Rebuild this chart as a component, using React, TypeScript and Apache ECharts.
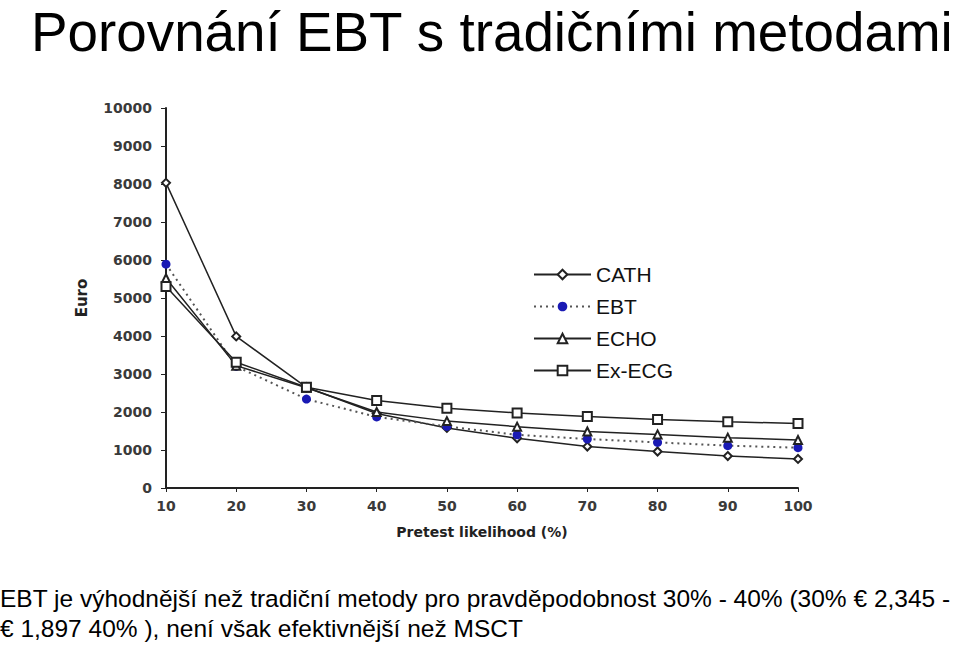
import React, { useEffect, useRef } from "react";
import * as echarts from "echarts";

const categories = ["10", "20", "30", "40", "50", "60", "70", "80", "90", "100"];
const cath = [8030, 3990, 2650, 1960, 1580, 1310, 1090, 960, 840, 765];
const ebt = [5890, 3200, 2340, 1870, 1620, 1400, 1290, 1200, 1115, 1060];
const echo = [5520, 3220, 2640, 2000, 1760, 1614, 1485, 1410, 1325, 1265];
const exEcg = [5300, 3310, 2650, 2300, 2100, 1975, 1880, 1805, 1745, 1695];
const yTicks = [0, 10000, 1000];

const titleText = "Porovnání EBT s tradičními metodami";
const noteLine1 = "EBT je výhodnější než tradiční metody pro pravděpodobnost 30% - 40% (30% € 2,345 -";
const noteLine2 = "€ 1,897 40% ), není však efektivnější než MSCT";

const axisFont = "'DejaVu Sans', Arial, sans-serif";

export default function App() {
  const ref = useRef<HTMLDivElement>(null);
  useEffect(() => {
    if (!ref.current) return;
    const chart = echarts.init(ref.current, null, { renderer: "svg" });
    const lineBase = { type: "line", symbolKeepAspect: true };
    chart.setOption({
      animation: false,
      backgroundColor: "#ffffff",
      graphic: [
        {
          type: "text",
          left: 31,
          top: 4,
          style: {
            text: titleText,
            font: "54.8px 'Liberation Sans', Arial, sans-serif",
            fill: "#000",
          },
        },
        {
          type: "text",
          left: 0,
          top: 586,
          style: {
            text: noteLine1,
            font: "24.5px 'Liberation Sans', Arial, sans-serif",
            fill: "#000",
          },
        },
        {
          type: "text",
          left: 0,
          top: 616,
          style: {
            text: noteLine2,
            font: "24.5px 'Liberation Sans', Arial, sans-serif",
            fill: "#000",
          },
        },
      ],
      legend: {
        orient: "vertical",
        left: 528,
        top: 259,
        itemWidth: 57,
        itemHeight: 12,
        itemGap: 11,
        textStyle: {
          fontSize: 21,
          color: "#111",
          fontFamily: "'Liberation Sans', Arial, sans-serif",
          lineHeight: 19,
        },
        data: ["CATH", "EBT", "ECHO", "Ex-ECG"],
      },
      grid: { left: 166, right: 162, top: 108, bottom: 158, containLabel: false },
      xAxis: {
        type: "category",
        data: categories,
        boundaryGap: false,
        name: "Pretest likelihood (%)",
        nameLocation: "middle",
        nameGap: 37,
        nameTextStyle: {
          fontSize: 14,
          fontWeight: "bold",
          color: "#222",
          fontFamily: axisFont,
        },
        axisLine: { lineStyle: { color: "#222", width: 2 } },
        axisTick: { alignWithLabel: true, length: 4, lineStyle: { color: "#222" } },
        axisLabel: {
          fontSize: 14,
          fontWeight: "bold",
          color: "#3a3a3a",
          margin: 11,
          fontFamily: axisFont,
        },
        splitLine: { show: false },
      },
      yAxis: {
        type: "value",
        min: yTicks[0],
        max: yTicks[1],
        interval: yTicks[2],
        name: "Euro",
        nameLocation: "middle",
        nameRotate: 90,
        nameGap: 77,
        nameTextStyle: {
          fontSize: 15,
          fontWeight: "bold",
          color: "#222",
          fontFamily: axisFont,
        },
        axisLine: { show: true, lineStyle: { color: "#222", width: 2 } },
        axisTick: { show: true, length: 5, lineStyle: { color: "#222" } },
        axisLabel: {
          fontSize: 14,
          fontWeight: "bold",
          color: "#3a3a3a",
          margin: 14,
          fontFamily: axisFont,
          formatter: (v: number) => String(v),
        },
        splitLine: { show: false },
      },
      series: [
        {
          ...lineBase,
          name: "CATH",
          data: cath,
          symbol: "emptyDiamond",
          symbolSize: 8,
          itemStyle: { color: "#222", borderWidth: 1.2 },
          lineStyle: { color: "#222", width: 1.5 },
        },
        {
          ...lineBase,
          name: "EBT",
          data: ebt,
          symbol: "circle",
          symbolSize: 9,
          itemStyle: { color: "#1a1ab4" },
          lineStyle: { color: "#555", width: 2, type: [2, 4] },
        },
        {
          ...lineBase,
          name: "ECHO",
          data: echo,
          symbol: "emptyTriangle",
          symbolSize: 8,
          itemStyle: { color: "#222", borderWidth: 1.2 },
          lineStyle: { color: "#222", width: 1.5 },
        },
        {
          ...lineBase,
          name: "Ex-ECG",
          data: exEcg,
          symbol: "emptyRect",
          symbolSize: 9,
          itemStyle: { color: "#222", borderWidth: 1.2 },
          lineStyle: { color: "#222", width: 1.5 },
        },
      ],
    });
    return () => chart.dispose();
  }, []);
  return (
    <div
      ref={ref}
      style={{ position: "fixed", left: 0, top: 0, width: 960, height: 646 }}
    />
  );
}
